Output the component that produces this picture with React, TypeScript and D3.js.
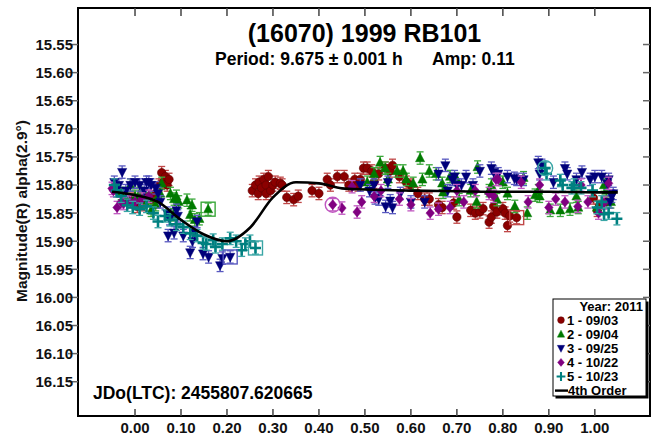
import React from "react";
import * as d3 from "d3";

const W = 654;
const H = 436;

// ---- data ----
const xTicks = [0, 0.1, 0.2, 0.3, 0.4, 0.5, 0.6, 0.7, 0.8, 0.9, 1.0];
const yTicks = [15.55, 15.6, 15.65, 15.7, 15.75, 15.8, 15.85, 15.9, 15.95, 16.0, 16.05, 16.1, 16.15];

const s1: [number, number][] = [
  [-0.005, 15.825], [0.005, 15.838], [0.012, 15.83], [0.02, 15.835], [0.03, 15.82], [0.04, 15.83], [0.045, 15.815],
  [0.052, 15.8], [0.058, 15.778], [0.062, 15.795], [0.066, 15.785], [0.07, 15.8], [0.074, 15.79],
  [0.255, 15.81], [0.262, 15.8], [0.268, 15.815], [0.27, 15.795], [0.275, 15.805], [0.28, 15.79], [0.285, 15.8],
  [0.285, 15.815], [0.29, 15.785], [0.295, 15.81], [0.3, 15.8], [0.305, 15.795], [0.316, 15.797], [0.32, 15.8],
  [0.33, 15.822], [0.345, 15.826], [0.355, 15.82], [0.385, 15.81], [0.4, 15.815], [0.418, 15.79], [0.425, 15.8],
  [0.44, 15.785], [0.455, 15.785], [0.465, 15.8], [0.478, 15.79], [0.485, 15.8], [0.49, 15.79], [0.497, 15.77],
  [0.505, 15.77], [0.515, 15.775], [0.52, 15.795], [0.53, 15.78], [0.545, 15.77], [0.555, 15.775], [0.56, 15.765],
  [0.575, 15.785], [0.59, 15.795], [0.6, 15.8],
  [0.615, 15.815], [0.63, 15.825], [0.64, 15.825], [0.66, 15.835], [0.668, 15.84], [0.693, 15.832], [0.7, 15.857],
  [0.73, 15.845], [0.74, 15.85], [0.75, 15.848], [0.757, 15.842], [0.77, 15.866], [0.775, 15.857], [0.78, 15.838],
  [0.787, 15.848], [0.8, 15.842], [0.805, 15.85], [0.81, 15.872], [0.815, 15.855], [0.83, 15.858],
  [0.997, 15.823], [1.005, 15.845], [1.01, 15.838], [1.025, 15.83],
];
const s2: [number, number][] = [
  [-0.045, 15.8], [-0.04, 15.81], [-0.03, 15.815], [-0.02, 15.825], [-0.01, 15.8], [0.0, 15.82], [0.01, 15.815],
  [0.02, 15.83], [0.03, 15.825], [0.035, 15.845], [0.045, 15.835], [0.05, 15.82], [0.055, 15.815], [0.058, 15.797],
  [0.077, 15.815], [0.083, 15.853], [0.085, 15.825], [0.09, 15.82], [0.095, 15.83], [0.113, 15.827], [0.12, 15.853],
  [0.124, 15.836], [0.13, 15.862], [0.14, 15.86], [0.159, 15.843],
  [0.505, 15.795], [0.52, 15.78], [0.533, 15.76], [0.544, 15.77], [0.55, 15.79], [0.57, 15.775], [0.583, 15.775],
  [0.59, 15.79], [0.605, 15.797], [0.62, 15.752], [0.625, 15.79], [0.64, 15.775], [0.655, 15.78], [0.668, 15.797],
  [0.67, 15.813], [0.685, 15.785], [0.7, 15.79], [0.705, 15.826], [0.73, 15.81], [0.743, 15.83], [0.745, 15.768],
  [0.77, 15.81], [0.775, 15.8], [0.787, 15.826], [0.8, 15.795], [0.81, 15.815], [0.826, 15.838], [0.845, 15.787],
  [0.853, 15.85], [0.87, 15.818], [0.877, 15.81], [0.88, 15.82], [0.903, 15.845], [0.925, 15.845], [0.946, 15.843],
  [0.96, 15.82], [0.964, 15.84], [1.005, 15.84], [1.02, 15.8], [1.025, 15.81], [1.035, 15.83],
];
const s3: [number, number][] = [
  [-0.045, 15.795], [-0.04, 15.81], [-0.035, 15.8], [-0.028, 15.777], [-0.02, 15.81], [-0.01, 15.8], [0.0, 15.795],
  [0.01, 15.8], [0.02, 15.81], [0.025, 15.795], [0.03, 15.795], [0.035, 15.8], [0.045, 15.805], [0.05, 15.815],
  [0.055, 15.83], [0.07, 15.85], [0.072, 15.89], [0.075, 15.86], [0.085, 15.885], [0.09, 15.845], [0.093, 15.855],
  [0.105, 15.89], [0.12, 15.92], [0.125, 15.9], [0.13, 15.885], [0.135, 15.865], [0.148, 15.922], [0.16, 15.928],
  [0.185, 15.943], [0.19, 15.93], [0.207, 15.928],
  [0.49, 15.8], [0.51, 15.81], [0.52, 15.8], [0.522, 15.823], [0.53, 15.825], [0.545, 15.838], [0.55, 15.795],
  [0.555, 15.828], [0.56, 15.84], [0.577, 15.815], [0.6, 15.83], [0.63, 15.83], [0.66, 15.78], [0.675, 15.765],
  [0.68, 15.81], [0.69, 15.79], [0.695, 15.785], [0.7, 15.8], [0.71, 15.8], [0.72, 15.785], [0.735, 15.8],
  [0.75, 15.775], [0.775, 15.77], [0.78, 15.777], [0.79, 15.78], [0.81, 15.785], [0.825, 15.788], [0.83, 15.79],
  [0.845, 15.79], [0.877, 15.76], [0.88, 15.78], [0.885, 15.765], [0.91, 15.795], [0.935, 15.77], [0.94, 15.78],
  [0.96, 15.79], [0.972, 15.777], [0.99, 15.79], [1.0, 15.785], [1.015, 15.785], [1.027, 15.797], [1.03, 15.79],
  [1.033, 15.83], [1.037, 15.82], [1.04, 15.815],
];
const s4: [number, number][] = [
  [-0.05, 15.806], [-0.047, 15.81], [-0.039, 15.84], [-0.03, 15.83], [-0.025, 15.833], [-0.01, 15.83], [0.0, 15.83],
  [0.015, 15.825], [0.03, 15.82],
  [0.43, 15.835], [0.45, 15.841], [0.472, 15.803], [0.483, 15.848], [0.493, 15.83], [0.52, 15.82], [0.535, 15.81],
  [0.575, 15.825], [0.6, 15.835], [0.642, 15.85], [0.66, 15.843], [0.685, 15.84], [0.7, 15.81], [0.715, 15.83],
  [0.74, 15.81], [0.77, 15.815], [0.78, 15.82], [0.785, 15.79], [0.79, 15.79], [0.84, 15.795], [0.855, 15.83],
  [0.88, 15.8], [0.9, 15.84], [0.915, 15.825], [0.935, 15.83], [0.963, 15.838], [0.97, 15.8], [0.985, 15.83],
  [1.008, 15.85], [1.02, 15.832], [1.03, 15.797],
];
const s5: [number, number][] = [
  [-0.045, 15.8], [-0.04, 15.81], [-0.03, 15.82], [-0.017, 15.836], [-0.005, 15.84], [0.01, 15.843], [0.025, 15.838],
  [0.04, 15.85], [0.05, 15.865], [0.065, 15.855], [0.076, 15.862], [0.09, 15.87], [0.105, 15.875], [0.12, 15.886],
  [0.135, 15.89], [0.148, 15.903], [0.155, 15.905], [0.17, 15.898], [0.175, 15.91], [0.19, 15.905], [0.207, 15.895],
  [0.22, 15.9], [0.232, 15.916], [0.24, 15.905], [0.25, 15.9], [0.262, 15.912],
  [0.892, 15.77], [0.895, 15.78], [0.925, 15.792], [0.93, 15.8], [0.95, 15.805], [0.955, 15.8], [0.97, 15.805],
  [0.995, 15.81], [1.005, 15.84], [1.015, 15.83], [1.02, 15.852], [1.03, 15.85], [1.048, 15.86],
];

// 4th-order fit curve
const fitPhase = [-0.05, 0.0, 0.05, 0.1, 0.15, 0.2, 0.25, 0.3, 0.35, 0.4, 0.45, 0.5, 0.6, 0.7, 0.8, 0.9, 1.0, 1.05];
const fitMag = [15.812, 15.818, 15.83, 15.862, 15.888, 15.9, 15.876, 15.822, 15.795, 15.797, 15.806, 15.808, 15.81, 15.811, 15.812, 15.812, 15.813, 15.813];

// excluded / highlighted points: [series index, phase, mag]
const boxed: [number, number, number][] = [[0, 0.83, 15.858], [1, 0.159, 15.843], [2, 0.207, 15.928], [4, 0.262, 15.912]];
const circled: [number, number, number][] = [[3, 0.43, 15.835], [4, 0.892, 15.77]];

const seriesNames = ["1 - 09/03", "2 - 09/04", "3 - 09/25", "4 - 10/22", "5 - 10/23"];
const seriesData = [s1, s2, s3, s4, s5];
const seriesColor = ["#8b0000", "#007a00", "#00007a", "#800080", "#008080"];
const errColor = ["#c04848", "#3aa83a", "#5858c0", "#c058c0", "#3aa6a6"];
const ERR = 0.011;

const FONT = "'Liberation Sans', Arial, sans-serif";

function markerPath(kind: number, s: number): string {
  if (kind === 1) return `M0,${-1.1 * s} L${s},${0.8 * s} L${-s},${0.8 * s} Z`;
  if (kind === 2) return `M0,${1.1 * s} L${s},${-0.8 * s} L${-s},${-0.8 * s} Z`;
  if (kind === 3) return `M0,${-s} L${0.85 * s},0 L0,${s} L${-0.85 * s},0 Z`;
  return "";
}

function Marker({ kind, x, y }: { kind: number; x: number; y: number }) {
  const c = seriesColor[kind];
  if (kind === 0) return <circle cx={x} cy={y} r={4.2} fill={c} stroke="#5a0000" strokeWidth={0.6} />;
  if (kind === 4)
    return (
      <path d={`M${x - 5.5},${y} H${x + 5.5} M${x},${y - 5.5} V${y + 5.5}`} stroke={c} strokeWidth={2.6} fill="none" />
    );
  return <path transform={`translate(${x},${y})`} d={markerPath(kind, kind === 3 ? 5 : 4.6)} fill={c} stroke={c} strokeWidth={0.5} />;
}

export default function App() {
  const x = d3.scaleLinear().domain([-0.124, 1.12]).range([78, 650]);
  const y = d3.scaleLinear().domain([15.485, 16.211]).range([8, 416]);

  const fitLine = d3
    .line<number>()
    .x((_, i) => x(fitPhase[i]))
    .y((d) => y(d))
    .curve(d3.curveMonotoneX)(fitMag) as string;

  const left = 78, right = 650, top = 8, bottom = 416;

  const lx = 553, ly = 299, lw = 93, lh = 97;
  const rowY = (i: number) => ly + 7 + 14.1 * i;

  return (
    <svg width={W} height={H} style={{ position: "absolute", left: 0, top: 0, background: "#fff" }} fontFamily={FONT}>
      <rect x={0} y={0} width={W} height={H} fill="#fff" />
      {/* data */}
      <g>
        {seriesData.map((data, k) => (
          <g key={k}>
            {data.map(([p, m], i) => {
              const cx = x(p);
              const y1 = y(m - ERR);
              const y2 = y(m + ERR);
              return (
                <g key={i} stroke={errColor[k]} strokeWidth={1.3}>
                  <line x1={cx} x2={cx} y1={y1} y2={y2} />
                  <line x1={cx - 3.5} x2={cx + 3.5} y1={y1} y2={y1} />
                  <line x1={cx - 3.5} x2={cx + 3.5} y1={y2} y2={y2} />
                </g>
              );
            })}
            {data.map(([p, m], i) => (
              <Marker key={i} kind={k} x={x(p)} y={y(m)} />
            ))}
          </g>
        ))}
        {boxed.map(([k, p, m], i) => (
          <rect key={i} x={x(p) - 7} y={y(m) - 7} width={14} height={14} fill="none" stroke={errColor[k]} strokeWidth={1.4} />
        ))}
        {circled.map(([k, p, m], i) => (
          <circle key={i} cx={x(p)} cy={y(m)} r={7.5} fill="none" stroke={errColor[k]} strokeWidth={1.4} />
        ))}
        <path d={fitLine} fill="none" stroke="#000" strokeWidth={2.6} />
      </g>

      {/* frame */}
      <rect x={left} y={top} width={right - left} height={bottom - top} fill="none" stroke="#000" strokeWidth={2} />

      {/* y ticks */}
      {yTicks.map((t) => (
        <g key={t}>
          <line x1={left - 10} x2={left} y1={y(t)} y2={y(t)} stroke="#666" strokeWidth={1.5} />
          <line x1={right - 7} x2={right} y1={y(t)} y2={y(t)} stroke="#666" strokeWidth={1.5} />
          <text x={73} y={y(t)} dy="0.36em" textAnchor="end" fontSize={15} fontWeight="bold" fill="#111">
            {t.toFixed(2)}
          </text>
        </g>
      ))}
      {/* x ticks */}
      {xTicks.map((t) => (
        <g key={t}>
          <line x1={x(t)} x2={x(t)} y1={top} y2={top + 8} stroke="#444" strokeWidth={1.5} />
          <line x1={x(t)} x2={x(t)} y1={bottom - 7} y2={bottom} stroke="#444" strokeWidth={1.5} />
          <text x={x(t)} y={433} textAnchor="middle" fontSize={15} fontWeight="bold" fill="#111">
            {t.toFixed(2)}
          </text>
        </g>
      ))}

      {/* axis title */}
      <text
        transform="translate(22,211) rotate(-90)"
        textAnchor="middle"
        dy="0.35em"
        fontSize={15.5}
        fontWeight="bold"
        fill="#111"
      >
        Magnitude(R) alpha(2.9°)
      </text>

      {/* titles */}
      <text x={364.5} y={42} textAnchor="middle" fontSize={25} fontWeight="bold" fill="#000">
        (16070) 1999 RB101
      </text>
      <text x={215} y={65} fontSize={17.5} fontWeight="bold" fill="#000">
        Period: 9.675 ± 0.001 h
      </text>
      <text x={432} y={65} fontSize={17.5} fontWeight="bold" fill="#000">
        Amp: 0.11
      </text>
      <text x={93} y={399} fontSize={17.5} fontWeight="bold" fill="#000">
        JDo(LTC): 2455807.620665
      </text>

      {/* legend */}
      <rect x={lx + 2.5} y={ly + 2.5} width={lw} height={lh} fill="#000" />
      <rect x={lx} y={ly} width={lw} height={lh} fill="#fff" stroke="#000" strokeWidth={1} />
      <text x={643} y={rowY(0)} dy="0.35em" textAnchor="end" fontSize={13} fontWeight="bold">
        Year: 2011
      </text>
      {seriesNames.map((n, k) => (
        <g key={n}>
          <g transform={`translate(${561},${rowY(k + 1)}) scale(0.8) translate(${-561},${-rowY(k + 1)})`}>
            <Marker kind={k} x={561} y={rowY(k + 1)} />
          </g>
          <text x={567} y={rowY(k + 1)} dy="0.35em" fontSize={13} fontWeight="bold">
            {n}
          </text>
        </g>
      ))}
      <line x1={555} x2={568} y1={rowY(6)} y2={rowY(6)} stroke="#000" strokeWidth={2.4} />
      <text x={568} y={rowY(6)} dy="0.35em" fontSize={13} fontWeight="bold">
        4th Order
      </text>
    </svg>
  );
}
